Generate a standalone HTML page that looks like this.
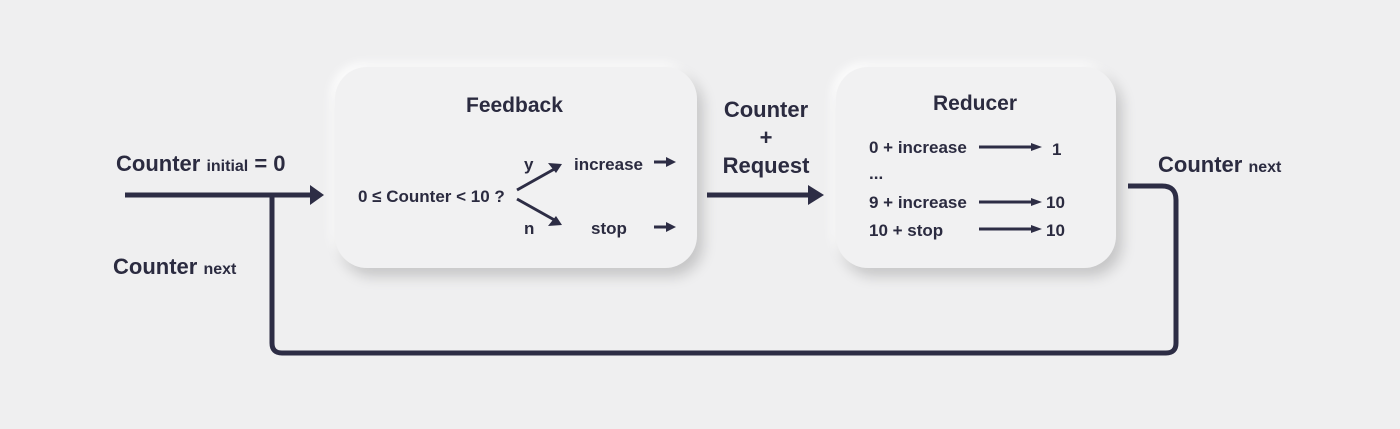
<!DOCTYPE html>
<html><head><style>
body{margin:0;width:1400px;height:429px;background:#efeff0;overflow:hidden;font-family:"Liberation Sans",Arial,sans-serif;font-weight:bold;color:#2b2b40}
svg{position:absolute;left:0;top:0}
.box{position:absolute;background:#f1f1f2;border-radius:32px;box-shadow:6px 8px 14px rgba(0,0,0,0.18),-4px -4px 10px rgba(255,255,255,0.9)}
.t{position:absolute;white-space:nowrap}
</style></head><body>
<div class="box" style="left:335px;top:67px;width:362px;height:201px"></div>
<div class="box" style="left:836px;top:67px;width:280px;height:201px"></div>
<svg width="1400" height="429">
<g stroke="#2d2d45" stroke-width="5" fill="none">
<path d="M125 195 H312"/>
<path d="M272 195 V343 Q272 353 282 353 H1166 Q1176 353 1176 343 V200 Q1176 186 1162 186 H1128"/>
<path d="M707 195 H810"/>
</g>
<g fill="#2d2d45">
<polygon points="310,185 324,195 310,205"/>
<polygon points="808,185 824,195 808,205"/>
</g>
<g stroke="#2d2d45" stroke-width="3" fill="none">
<path d="M517 190 L558 167"/><path d="M517 199 L558 222"/>
<path d="M654 162 H668"/><path d="M654 227 H668"/>
<path d="M979 147 H1032"/><path d="M979 202 H1032"/><path d="M979 229 H1032"/>
</g>
<g fill="#2d2d45">
<polygon points="562,164 548,163 556,173"/>
<polygon points="562,225 548,226 556,216"/>
<polygon points="666,157 676,162 666,167"/>
<polygon points="666,222 676,227 666,232"/>
<polygon points="1031,143 1042,147 1031,151"/>
<polygon points="1031,198 1042,202 1031,206"/>
<polygon points="1031,225 1042,229 1031,233"/>
</g>
</svg>
<div class="t" style="left:466px;top:94px;font-size:21px">Feedback</div>
<div class="t" style="left:358px;top:187px;font-size:17px">0 ≤ Counter &lt; 10 ?</div>
<div class="t" style="left:524px;top:155px;font-size:17px">y</div>
<div class="t" style="left:524px;top:219px;font-size:17px">n</div>
<div class="t" style="left:574px;top:155px;font-size:17px">increase</div>
<div class="t" style="left:591px;top:219px;font-size:17px">stop</div>
<div class="t" style="left:933px;top:92px;font-size:21px">Reducer</div>
<div class="t" style="left:869px;top:138px;font-size:17px">0 + increase</div>
<div class="t" style="left:869px;top:164px;font-size:17px">...</div>
<div class="t" style="left:869px;top:193px;font-size:17px">9 + increase</div>
<div class="t" style="left:869px;top:221px;font-size:17px">10 + stop</div>
<div class="t" style="left:1052px;top:140px;font-size:17px">1</div>
<div class="t" style="left:1046px;top:193px;font-size:17px">10</div>
<div class="t" style="left:1046px;top:221px;font-size:17px">10</div>
<div class="t" style="left:720px;top:96px;font-size:22px;text-align:center;width:92px;line-height:28px">Counter<br>+<br>Request</div>
<div class="t" style="left:116px;top:151px;font-size:22px">Counter <span style="font-size:16px">initial</span> = 0</div>
<div class="t" style="left:113px;top:254px;font-size:22px">Counter <span style="font-size:16px">next</span></div>
<div class="t" style="left:1158px;top:152px;font-size:22px">Counter <span style="font-size:16px">next</span></div>
</body></html>
